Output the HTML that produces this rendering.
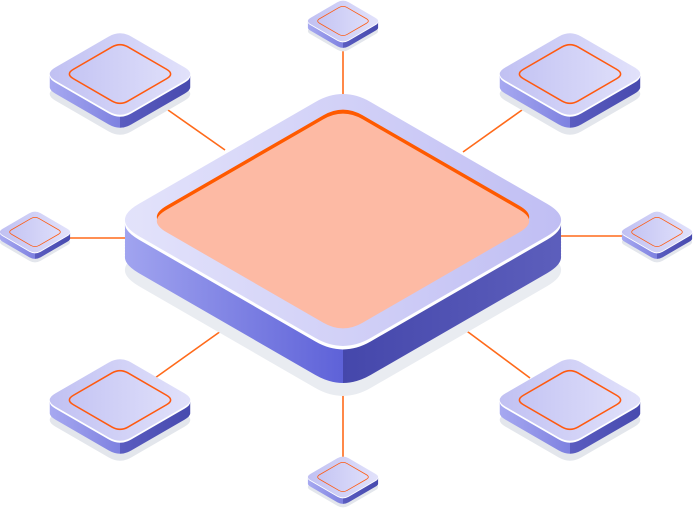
<!DOCTYPE html>
<html><head><meta charset="utf-8"><style>html,body{margin:0;padding:0;background:#fff;width:694px;height:511px;overflow:hidden}</style></head><body>
<svg width="694" height="511" viewBox="0 0 694 511" xmlns="http://www.w3.org/2000/svg">
<defs>
<linearGradient id="mTop" gradientUnits="userSpaceOnUse" x1="-232" y1="0" x2="232" y2="0"><stop offset="0" stop-color="#e4e4fb"/><stop offset="1" stop-color="#bfbdf3"/></linearGradient>
<linearGradient id="mSide" gradientUnits="userSpaceOnUse" x1="-232" y1="0" x2="232" y2="0"><stop offset="0" stop-color="#a5a8f1"/><stop offset="0.5" stop-color="#5e62d8"/><stop offset="0.5" stop-color="#4547ab"/><stop offset="1" stop-color="#5e60bd"/></linearGradient>
<linearGradient id="tTop" gradientUnits="userSpaceOnUse" x1="-76" y1="0" x2="76" y2="0"><stop offset="0" stop-color="#bfbff2"/><stop offset="1" stop-color="#e3e3fb"/></linearGradient>
<linearGradient id="tSide" gradientUnits="userSpaceOnUse" x1="-76" y1="0" x2="76" y2="0"><stop offset="0" stop-color="#aaacf2"/><stop offset="0.5" stop-color="#7e81e0"/><stop offset="0.5" stop-color="#5a5cc0"/><stop offset="1" stop-color="#4649ad"/></linearGradient>
<path id="md" d="M -27.8,-117.9 Q 0,-134 27.8,-117.9 L 204.2,-16.1 Q 232,0 204.2,16.1 L 27.8,117.9 Q 0,134 -27.8,117.9 L -204.2,16.1 Q -232,0 -204.2,-16.1 Z"/>
<path id="od" d="M -19.6,-101.7 Q 0,-113 19.6,-101.7 L 176.4,-11.3 Q 196,0 176.4,11.3 L 19.6,101.7 Q 0,113 -19.6,101.7 L -176.4,11.3 Q -196,0 -176.4,-11.3 Z"/>
<path id="td" d="M -11.4,-37.4 Q 0,-44 11.4,-37.4 L 64.6,-6.6 Q 76,0 64.6,6.6 L 11.4,37.4 Q 0,44 -11.4,37.4 L -64.6,6.6 Q -76,0 -64.6,-6.6 Z"/>
<g id="tile">
<use href="#td" y="20" fill="#e3e6ec"/>
<g fill="url(#tSide)"><use href="#td" y="13"/><use href="#td" y="11"/><use href="#td" y="9"/><use href="#td" y="7"/><use href="#td" y="5"/><use href="#td" y="3"/></g>
<use href="#td" y="2" fill="#fff"/>
<use href="#td" fill="url(#tTop)"/>
<use href="#td" transform="scale(0.72)" fill="none" stroke="#ff5a10" stroke-width="2.2"/>
</g>
</defs>
<g stroke="#ff6a1a" stroke-width="1.6">
<line x1="168" y1="110" x2="225" y2="150"/>
<line x1="522" y1="110" x2="463" y2="152"/>
<line x1="70" y1="238" x2="130" y2="238"/>
<line x1="558" y1="236" x2="624" y2="236"/>
<line x1="343" y1="45" x2="343" y2="100"/>
<line x1="343" y1="380" x2="343" y2="462"/>
<line x1="155" y1="378" x2="228" y2="326"/>
<line x1="460" y1="326" x2="530" y2="378"/>
</g>
<g transform="translate(343,220)">
<use href="#md" y="50" fill="#e9ecf1"/>
<g fill="url(#mSide)"><use href="#md" y="37"/><use href="#md" y="34"/><use href="#md" y="31"/><use href="#md" y="28"/><use href="#md" y="25"/><use href="#md" y="22"/><use href="#md" y="19"/><use href="#md" y="16"/><use href="#md" y="13"/><use href="#md" y="10"/><use href="#md" y="7"/><use href="#md" y="5"/></g>
<use href="#md" y="3.5" fill="#fff"/>
<use href="#md" fill="url(#mTop)"/>
<use href="#od" y="-3" fill="#ff5a00"/>
<use href="#od" y="1" fill="#fdbaa4"/>
</g>
<use href="#tile" transform="translate(120,74)"/>
<use href="#tile" transform="translate(570,74)"/>
<use href="#tile" transform="translate(120,400)"/>
<use href="#tile" transform="translate(570,400)"/>
<use href="#tile" transform="translate(343,21) scale(0.5)"/>
<use href="#tile" transform="translate(343,477) scale(0.5)"/>
<use href="#tile" transform="translate(35,232) scale(0.5)"/>
<use href="#tile" transform="translate(657,232) scale(0.5)"/>
</svg>
</body></html>
